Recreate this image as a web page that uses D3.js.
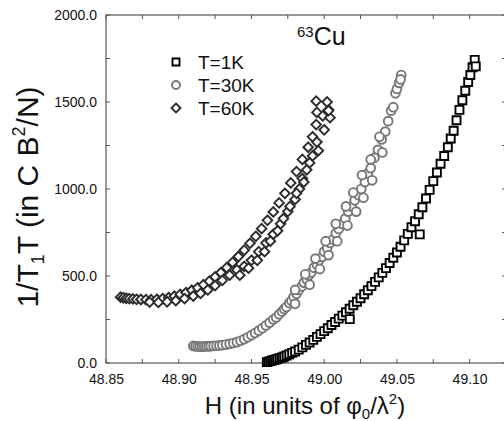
<!DOCTYPE html>
<html><head><meta charset="utf-8">
<script src="https://cdn.jsdelivr.net/npm/d3@7"></script>
<style>body{margin:0;background:#fff}svg{display:block}</style>
</head><body>
<svg id="c" width="504" height="421"></svg>
<script>
// ---- data ----
const seriesNames = ["T=1K", "T=30K", "T=60K"];
const xTickValues = [48.85, 48.90, 48.95, 49.00, 49.05, 49.10];
const yTickValues = [0, 500, 1000, 1500, 2000];
const t1K = [
 [48.9606,5],[48.9618,8],[48.9630,11],[48.9642,14],[48.9655,17],[48.9668,20],[48.9680,24],[48.9695,28],
 [48.9710,32],[48.9725,37],[48.9742,43],[48.9760,50],[48.9780,58],[48.9800,66],[48.9825,77],[48.9850,90],
 [48.9875,104],[48.9900,118],[48.9925,133],[48.9950,150],[48.9975,166],[49.0000,183],[49.0025,200],
 [49.0050,218],[49.0075,236],[49.0100,255],[49.0125,272],[49.0150,292],[49.0176,252],[49.0175,312],[49.0200,332],
 [49.0225,352],[49.0250,372],[49.0275,395],[49.0300,418],[49.0325,442],[49.0350,466],[49.0375,492],
 [49.0400,518],[49.0425,545],[49.0450,575],[49.0475,605],[49.0500,635],[49.0525,668],[49.0550,705],
 [49.0575,742],[49.0600,780],[49.0625,815],[49.0657,739],[49.0650,855],[49.0675,895],[49.0700,945],[49.0725,995],
 [49.0750,1045],[49.0775,1095],[49.0800,1145],[49.0825,1190],[49.0850,1240],[49.0870,1290],[49.0890,1335],
 [49.0910,1395],[49.0930,1455],[49.0950,1510],[49.0970,1565],[49.0990,1615],[49.1005,1655],[49.1020,1700],
 [49.1035,1742],[49.1042,1705]
];
const t30K = [
 [48.9100,98],[48.9115,96],[48.9130,95],[48.9145,94],[48.9160,94],[48.9175,95],[48.9190,95],[48.9205,96],
 [48.9220,97],[48.9240,98],[48.9260,99],[48.9280,101],[48.9300,103],[48.9325,106],[48.9350,110],[48.9375,115],
 [48.9400,120],[48.9425,128],[48.9450,137],[48.9475,148],[48.9500,160],[48.9525,172],[48.9550,186],
 [48.9575,200],[48.9600,216],[48.9625,232],[48.9650,250],[48.9670,262],[48.9690,280],[48.9710,296],
 [48.9725,310],[48.9740,322],[48.9760,345],[48.9775,358],[48.9790,380],[48.9810,398],[48.9825,420],
 [48.9845,440],[48.9860,462],[48.9880,480],[48.9895,505],[48.9910,520],[48.9930,548],[48.9950,565],
 [48.9965,590],[48.9985,610],[49.0000,640],[49.0020,660],[49.0040,690],[49.0060,710],[49.0080,745],
 [49.0100,770],[49.0120,800],[49.0145,830],[49.0165,870],[49.0190,900],[49.0210,935],[49.0235,965],
 [49.0255,1000],[49.0280,1040],[49.0300,1090],[49.0320,1120],[49.0345,1180],[49.0370,1225],[49.0395,1285],
 [49.0420,1330],[49.0440,1390],[49.0460,1450],[49.0475,1470],[49.0490,1550],[49.0500,1575],[49.0515,1610],
 [49.0530,1655],[49.0525,1630],
 [48.9800,340],[48.9900,450],[48.9970,540],[49.0030,620],[49.0090,700],[49.0160,790],[49.0220,870],
 [49.0270,950],[49.0330,1050],[49.0400,1210],
 [48.9800,420],[48.9870,510],[48.9940,600],[49.0010,700],[49.0080,800],[49.0150,900],[49.0200,980],
 [49.0260,1080],[49.0320,1170],[49.0380,1300]
];
const t60K = [
 [48.8600,378],[48.8620,375],[48.8640,372],[48.8660,370],[48.8685,368],[48.8710,366],[48.8740,365],
 [48.8775,364],[48.8810,364],[48.8850,366],[48.8890,370],[48.8930,376],[48.8970,384],[48.9010,394],
 [48.9050,405],[48.9090,418],[48.9130,432],[48.9170,450],[48.9210,470],[48.9250,495],[48.9290,520],
 [48.9330,548],[48.9370,578],[48.9410,612],[48.9450,648],[48.9490,688],[48.9530,728],[48.9570,772],
 [48.9610,820],[48.9650,868],[48.9690,920],[48.9730,975],[48.9770,1035],[48.9810,1100],[48.9850,1170],
 [48.9890,1240],[48.9920,1300],[48.9945,1370],[48.9950,1440],[48.9945,1505],[49.0020,1500],[49.0030,1455],
 [48.9990,1420],
 [48.8800,350],[48.8860,348],[48.8920,352],[48.8980,358],[48.9040,370],[48.9100,385],[48.9150,400],
 [48.9200,420],[48.9250,445],[48.9300,475],[48.9350,505],[48.9400,535],[48.9450,555],[48.9500,590],
 [48.9550,640],[48.9600,690],[48.9650,740],[48.9700,800],[48.9750,870],[48.9800,940],[48.9830,1000],
 [48.9850,1060],[48.9880,1110],[48.9920,1190],[48.9950,1270],[49.0000,1340],[49.0040,1410],[49.0030,1450],
 [48.9420,505],[48.9480,545],[48.9540,590],[48.9590,640],[48.9630,700],[48.9680,760],[48.9720,830],
 [48.9765,900],[48.9810,975],[48.9860,1040],[48.9900,1150],[48.9960,1220]
];

// ---- layout ----
const svg = d3.select("#c");
const L = 106, R = 506, T = 15, B = 363;
const x = d3.scaleLinear().domain([48.85, 49.125]).range([L, R]);
const y = d3.scaleLinear().domain([0, 2000]).range([B, T]);
const frame = "#555";
const font = "'Liberation Sans', Arial, Helvetica, sans-serif";

const gx = svg.append("g").attr("transform", `translate(0,${B})`)
  .call(d3.axisBottom(x).tickValues(xTickValues).tickFormat(d3.format(".2f")).tickSize(0).tickPadding(8));
const gy = svg.append("g").attr("transform", `translate(${L},0)`)
  .call(d3.axisLeft(y).tickValues(yTickValues).tickFormat(d3.format(".1f")).tickSize(0).tickPadding(9));
[gx, gy].forEach(g => {
  g.select(".domain").remove();
  g.selectAll("text").attr("font-family", font).attr("font-size", 14).attr("fill", "#111");
});
gx.selectAll("text").attr("dy", "0.9em");

// inward ticks (major + minor)
const xMinor = d3.range(48.85, 49.126, 0.025);
const yMinor = d3.range(0, 2001, 250);
const tk = svg.append("g").attr("stroke", frame).attr("stroke-width", 1);
xMinor.forEach(v => {
  tk.append("line").attr("x1", x(v)).attr("x2", x(v)).attr("y1", B).attr("y2", B - 4);
  tk.append("line").attr("x1", x(v)).attr("x2", x(v)).attr("y1", T).attr("y2", T + 4);
});
yMinor.forEach(v => {
  tk.append("line").attr("x1", L).attr("x2", L + 4).attr("y1", y(v)).attr("y2", y(v));
  tk.append("line").attr("x1", R).attr("x2", R - 4).attr("y1", y(v)).attr("y2", y(v));
});
svg.append("rect").attr("x", L).attr("y", T).attr("width", R - L).attr("height", B - T)
  .attr("fill", "none").attr("stroke", frame).attr("stroke-width", 1.2);

// ---- marks ----
const diamondPath = s => `M0,${-s}L${s},0L0,${s}L${-s},0Z`;
const squarePath = s => `M${-s},${-s}H${s}V${s}H${-s}Z`;

svg.append("g").selectAll("path").data(t60K).join("path")
  .attr("d", diamondPath(4.8))
  .attr("transform", d => `translate(${x(d[0])},${y(d[1])})`)
  .attr("fill", "#fff").attr("stroke", "#2b2b2b").attr("stroke-width", 1.9);
svg.append("g").selectAll("circle").data(t30K).join("circle")
  .attr("cx", d => x(d[0])).attr("cy", d => y(d[1])).attr("r", 4.4)
  .attr("fill", "#fff").attr("stroke", "#777").attr("stroke-width", 1.9);
svg.append("g").selectAll("path").data(t1K).join("path")
  .attr("d", squarePath(4))
  .attr("transform", d => `translate(${x(d[0])},${y(d[1])})`)
  .attr("fill", "#fff").attr("stroke", "#000").attr("stroke-width", 1.9);

// ---- legend ----
const lg = svg.append("g");
const rows = [62, 85, 108];
lg.append("path").attr("d", squarePath(3.5)).attr("transform", `translate(176,${rows[0]})`)
  .attr("fill", "#fff").attr("stroke", "#000").attr("stroke-width", 1.9);
lg.append("circle").attr("cx", 176).attr("cy", rows[1]).attr("r", 4)
  .attr("fill", "#fff").attr("stroke", "#777").attr("stroke-width", 1.9);
lg.append("path").attr("d", diamondPath(4.5)).attr("transform", `translate(176,${rows[2]})`)
  .attr("fill", "#fff").attr("stroke", "#2b2b2b").attr("stroke-width", 1.9);
seriesNames.forEach((n, i) => {
  lg.append("text").attr("x", 198).attr("y", rows[i]).attr("dy", "0.36em")
    .attr("font-family", font).attr("font-size", 19).attr("fill", "#111").text(n);
});

// ---- annotation ----
const cu = svg.append("text").attr("x", 297).attr("y", 45).attr("font-family", font).attr("fill", "#111");
cu.append("tspan").attr("font-size", 15).attr("dy", "-8").text("63");
cu.append("tspan").attr("font-size", 25).attr("dy", "8").text("Cu");

// ---- axis titles ----
const xt = svg.append("text").attr("x", 305).attr("y", 414).attr("text-anchor", "middle")
  .attr("font-family", font).attr("font-size", 24).attr("fill", "#111");
xt.append("tspan").text("H (in units of φ");
xt.append("tspan").attr("font-size", 15).attr("dy", 5).text("0");
xt.append("tspan").attr("dy", -5).text("/λ");
xt.append("tspan").attr("font-size", 15).attr("dy", -10).text("2");
xt.append("tspan").attr("dy", 10).text(")");

const yt = svg.append("text").attr("transform", "translate(38,197) rotate(-90)").attr("text-anchor", "middle")
  .attr("font-family", font).attr("font-size", 30).attr("fill", "#111");
yt.append("tspan").text("1/T");
yt.append("tspan").attr("font-size", 18).attr("dy", 6).text("1");
yt.append("tspan").attr("dy", -6).text("T (in C B");
yt.append("tspan").attr("font-size", 18).attr("dy", -13).text("2");
yt.append("tspan").attr("dy", 13).text("/N)");
</script>
</body></html>
